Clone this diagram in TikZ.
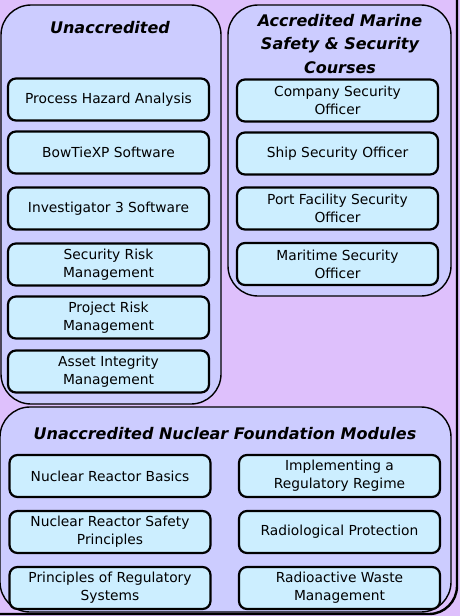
\documentclass[tikz,border=0pt]{standalone}
\usepackage{fontspec}
\setmainfont{DejaVu Sans}
\usepackage{xcolor}
\usepackage{tikz}
\usetikzlibrary{positioning}

\definecolor{lilac}{HTML}{DEC0FC}
\definecolor{grouplav}{HTML}{CCCCFF}
\definecolor{coursecyan}{HTML}{CCEEFF}

\begin{document}
\begin{tikzpicture}[
    x=1pt, y=-1pt,
    group/.style={
      draw=black,
      line width=1.4pt,
      rounded corners=30pt,
      fill=grouplav
    },
    grouptitle/.style={
      align=center,
      inner sep=0pt,
      font=\fontsize{16}{23.5}\selectfont\bfseries\itshape
    },
    course/.style={
      rectangle,
      rounded corners=8pt,
      minimum width=201pt,
      minimum height=42pt,
      draw=black,
      line width=2.2pt,
      fill=coursecyan,
      align=center,
      inner sep=2pt,
      font=\fontsize{13.8}{18}\selectfont
    }
  ]

    % Page frame and background
    \useasboundingbox (0,0) rectangle (460,616);
    \clip (0,0) rectangle (460,616);
    \fill[lilac] (0,0) rectangle (460,616);
    \draw[black, line width=2.4pt, rounded corners=28pt] (-40,-40) rectangle (457,614);

    % Group panels
    \draw[group] (1,5) rectangle (221,404);
    \draw[group] (228,5) rectangle (451,296);
    \draw[group] (0,407) rectangle (451,612);

    % Group titles
    \node[grouptitle] (unacc) at (110,28) {Unaccredited};
    \node[grouptitle] (marine) at (340,44) {Accredited Marine\\Safety \& Security\\Courses};
    \node[grouptitle] (nuclear) at (225,434) {Unaccredited Nuclear Foundation Modules};

    % Unaccredited courses
    \node[course] (pha) at (108.5,99.5) {Process Hazard Analysis};
    \node[course] (bowtie) at (108.5,152.5) {BowTieXP Software};
    \node[course] (invest) at (108.5,208.5) {Investigator 3 Software};
    \node[course] (secrisk) at (108.5,264.5) {Security Risk\\Management};
    \node[course] (projrisk) at (108.5,317.5) {Project Risk\\Management};
    \node[course] (asset) at (108.5,371.5) {Asset Integrity\\Management};

    % Accredited marine courses
    \node[course] (cso) at (337.5,100.5) {Company Security\\Officer};
    \node[course] (sso) at (337.5,153.5) {Ship Security Officer};
    \node[course] (pfso) at (337.5,208.5) {Port Facility Security\\Officer};
    \node[course] (mso) at (337.5,264) {Maritime Security\\Officer};

    % Nuclear foundation modules
    \node[course] (reactor) at (110,476) {Nuclear Reactor Basics};
    \node[course] (safety) at (110,532) {Nuclear Reactor Safety\\Principles};
    \node[course] (regsys) at (110,588) {Principles of Regulatory\\Systems};
    \node[course] (regime) at (339.5,476) {Implementing a\\Regulatory Regime};
    \node[course] (radprot) at (339.5,532) {Radiological Protection};
    \node[course] (waste) at (339.5,588) {Radioactive Waste\\Management};

  \end{tikzpicture}
\end{document}
